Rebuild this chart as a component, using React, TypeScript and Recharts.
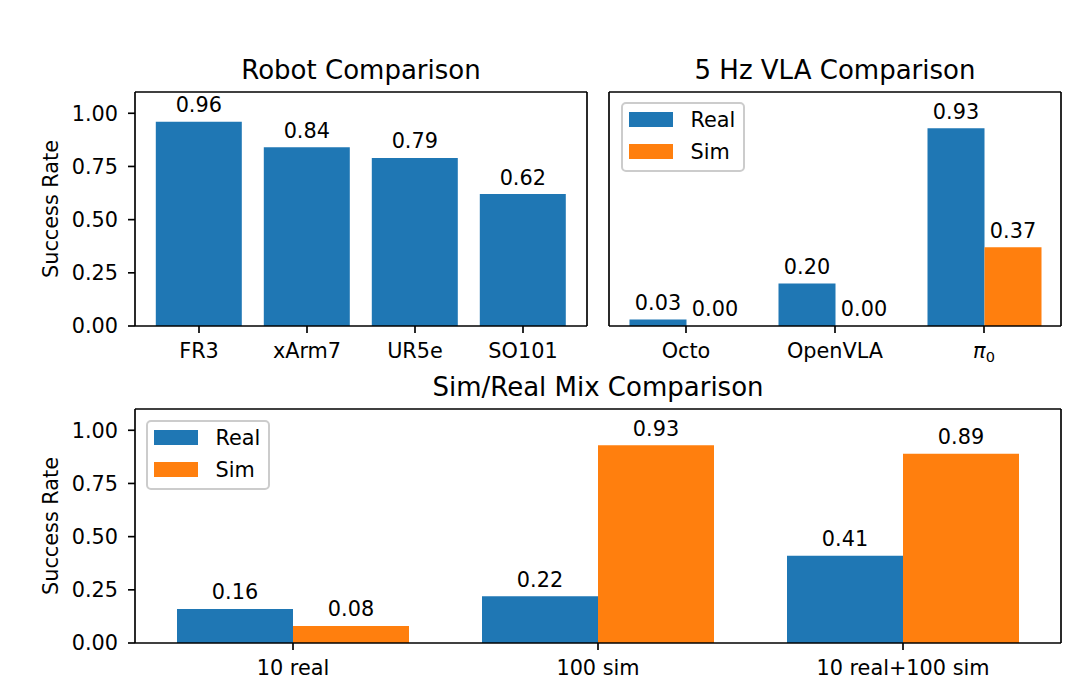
import { Bar, BarChart, LabelList, Legend, XAxis, YAxis } from "recharts"

const BLUE = "#1f77b4"
const ORANGE = "#ff7f0e"
const FS = 20.8
const TITLE_FS = 26

// Robot Comparison
const robots = ["FR3", "xArm7", "UR5e", "SO101"]
const robotSuccess = [0.96, 0.84, 0.79, 0.62]

// 5 Hz VLA Comparison
const vlaModels = ["Octo", "OpenVLA", "π0"]
const vlaReal = [0.03, 0.2, 0.93]
const vlaSim = [0.0, 0.0, 0.37]

// Sim/Real Mix Comparison
const mixSettings = ["10 real", "100 sim", "10 real+100 sim"]
const mixReal = [0.16, 0.22, 0.41]
const mixSim = [0.08, 0.93, 0.89]

const yTicks = [0, 0.25, 0.5, 0.75, 1.0]
const yDomain: [number, number] = [0, 1.1]

const robotData = robots.map((name, i) => ({ name, value: robotSuccess[i] }))
const vlaData = vlaModels.map((name, i) => ({ name, real: vlaReal[i], sim: vlaSim[i] }))
const mixData = mixSettings.map((name, i) => ({ name, real: mixReal[i], sim: mixSim[i] }))

const spine = { stroke: "#000", strokeWidth: 1.67 }
const fmt = (v: any) => Number(v).toFixed(2)

function XTick({ x, y, payload }: any) {
  const m = /^π(\d)$/.exec(String(payload.value))
  if (m) {
    return (
      <text x={x} y={y} dy="0.71em" textAnchor="middle" fontSize={FS} fill="#000">
        <tspan fontStyle="italic">π</tspan>
        <tspan fontSize={FS * 0.7} dy={4}>
          {m[1]}
        </tspan>
      </text>
    )
  }
  return (
    <text x={x} y={y} dy="0.71em" textAnchor="middle" fontSize={FS} fill="#000">
      {payload.value}
    </text>
  )
}

function YLabel({ viewBox }: any) {
  const x = viewBox.x + 51
  const y = viewBox.y + viewBox.height / 2
  return (
    <text
      x={x}
      y={y}
      transform={`rotate(-90 ${x} ${y})`}
      textAnchor="middle"
      dominantBaseline="central"
      fontSize={FS}
      fill="#000"
    >
      Success Rate
    </text>
  )
}

// value printed above each bar, also for zero-height bars
function BarValue(props: any) {
  const { viewBox, value } = props
  if (!viewBox || value == null) return null
  return (
    <text
      x={viewBox.x + viewBox.width / 2}
      y={viewBox.y - 9.5}
      textAnchor="middle"
      fontSize={FS}
      fill="#000"
    >
      {fmt(value)}
    </text>
  )
}

function BoxLegend({ payload }: any) {
  return (
    <svg width={124} height={70} style={{ display: "block" }}>
      <rect
        x={1}
        y={1}
        width={122}
        height={68}
        rx={4}
        fill="#fff"
        fillOpacity={0.8}
        stroke="#cccccc"
        strokeWidth={2}
      />
      {(payload || []).map((p: any, i: number) => (
        <g key={p.value}>
          <rect x={8} y={10 + i * 32} width={44} height={15} fill={p.color} />
          <text x={69.5} y={24.5 + i * 32} fontSize={FS} fill="#000">
            {p.value}
          </text>
        </g>
      ))}
    </svg>
  )
}

const titleLabel = (value: string) => ({
  value,
  position: "top" as const,
  offset: 12.4,
  fontSize: TITLE_FS,
  fill: "#000",
})

const valueLabel = <LabelList position="top" content={BarValue} />

export default function App() {
  return (
    <div
      style={{
        position: "absolute",
        left: 0,
        top: 0,
        width: 1079,
        height: 693,
        background: "#fff",
        fontFamily: "'DejaVu Sans', sans-serif",
      }}
    >
      <div style={{ position: "absolute", left: 0, top: 0 }}>
        <BarChart
          width={600}
          height={380}
          data={robotData}
          margin={{ top: 91, right: 12, bottom: 14, left: 0 }}
          barCategoryGap="10%"
        >
          <XAxis
            dataKey="name"
            height={40}
            padding={{ left: 10, right: 10 }}
            tick={<XTick />}
            tickSize={7}
            tickMargin={10}
            tickLine={spine}
            axisLine={spine}
          />
          <XAxis
            xAxisId="top"
            orientation="top"
            dataKey="name"
            height={1}
            tick={false}
            tickLine={false}
            axisLine={spine}
            label={titleLabel("Robot Comparison")}
          />
          <YAxis
            width={135}
            domain={yDomain}
            ticks={yTicks}
            tickFormatter={fmt}
            tick={{ fill: "#000", fontSize: FS }}
            tickSize={7}
            tickMargin={10}
            tickLine={spine}
            axisLine={spine}
            label={{ content: <YLabel /> }}
          />
          <YAxis
            yAxisId="right"
            orientation="right"
            width={1}
            domain={yDomain}
            tick={false}
            tickLine={false}
            axisLine={spine}
          />
          <Bar dataKey="value" fill={BLUE} isAnimationActive={false} minPointSize={0.01}>
            {valueLabel}
          </Bar>
        </BarChart>
      </div>

      <div style={{ position: "absolute", left: 600, top: 0 }}>
        <BarChart
          width={479}
          height={380}
          data={vlaData}
          margin={{ top: 91, right: 17, bottom: 14, left: 8 }}
          barCategoryGap={18}
          barGap={0}
        >
          <XAxis
            dataKey="name"
            height={40}
            padding={{ left: 2.5, right: 2.5 }}
            tick={<XTick />}
            tickSize={7}
            tickMargin={10}
            tickLine={spine}
            axisLine={spine}
          />
          <XAxis
            xAxisId="top"
            orientation="top"
            dataKey="name"
            height={1}
            tick={false}
            tickLine={false}
            axisLine={spine}
            label={titleLabel("5 Hz VLA Comparison")}
          />
          <YAxis width={1} domain={yDomain} tick={false} tickLine={false} axisLine={spine} />
          <YAxis
            yAxisId="right"
            orientation="right"
            width={1}
            domain={yDomain}
            tick={false}
            tickLine={false}
            axisLine={spine}
          />
          <Legend
            layout="vertical"
            align="center"
            verticalAlign="middle"
            content={<BoxLegend />}
            wrapperStyle={{ left: 21, top: 102, width: 124, height: 70, right: "auto", bottom: "auto" }}
          />
          <Bar dataKey="real" name="Real" fill={BLUE} isAnimationActive={false} minPointSize={0.01}>
            {valueLabel}
          </Bar>
          <Bar dataKey="sim" name="Sim" fill={ORANGE} isAnimationActive={false} minPointSize={0.01}>
            {valueLabel}
          </Bar>
        </BarChart>
      </div>

      <div style={{ position: "absolute", left: 0, top: 360 }}>
        <BarChart
          width={1079}
          height={333}
          data={mixData}
          margin={{ top: 48, right: 17, bottom: 10, left: 0 }}
          barCategoryGap={36.5}
          barGap={0}
        >
          <XAxis
            dataKey="name"
            height={40}
            padding={{ left: 5.5, right: 5.5 }}
            tick={<XTick />}
            tickSize={7}
            tickMargin={10}
            tickLine={spine}
            axisLine={spine}
          />
          <XAxis
            xAxisId="top"
            orientation="top"
            dataKey="name"
            height={1}
            tick={false}
            tickLine={false}
            axisLine={spine}
            label={titleLabel("Sim/Real Mix Comparison")}
          />
          <YAxis
            width={135}
            domain={yDomain}
            ticks={yTicks}
            tickFormatter={fmt}
            tick={{ fill: "#000", fontSize: FS }}
            tickSize={7}
            tickMargin={10}
            tickLine={spine}
            axisLine={spine}
            label={{ content: <YLabel /> }}
          />
          <YAxis
            yAxisId="right"
            orientation="right"
            width={1}
            domain={yDomain}
            tick={false}
            tickLine={false}
            axisLine={spine}
          />
          <Legend
            layout="vertical"
            align="center"
            verticalAlign="middle"
            content={<BoxLegend />}
            wrapperStyle={{ left: 146, top: 60, width: 124, height: 70, right: "auto", bottom: "auto" }}
          />
          <Bar dataKey="real" name="Real" fill={BLUE} isAnimationActive={false} minPointSize={0.01}>
            {valueLabel}
          </Bar>
          <Bar dataKey="sim" name="Sim" fill={ORANGE} isAnimationActive={false} minPointSize={0.01}>
            {valueLabel}
          </Bar>
        </BarChart>
      </div>
    </div>
  )
}
